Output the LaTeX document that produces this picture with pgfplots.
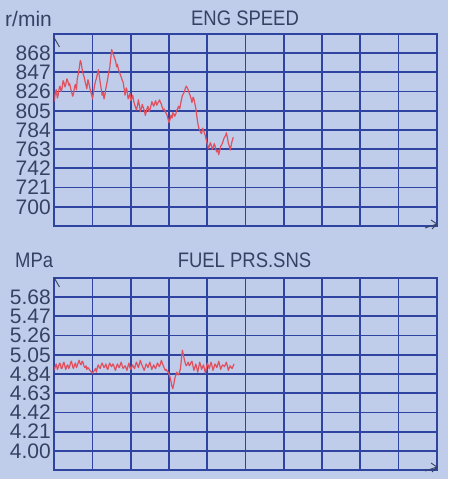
\documentclass[border=0pt]{standalone}
\usepackage{pgfplots}
\pgfplotsset{compat=1.18}
\usepackage{fontspec}
\setmainfont{Liberation Sans}
\newfontfamily\lcd[FakeStretch=0.88]{Liberation Sans}

\definecolor{lcdbg}{HTML}{BFCDEB}
\definecolor{lcdgrid}{HTML}{2F43A0}
\definecolor{ink}{HTML}{364264}
\definecolor{tracered}{HTML}{E2505E}

\pgfplotsset{
  lcd/.style={
    scale only axis, width=382.4pt, height=192pt,
    anchor=south west,
    xmin=0, xmax=10, xtick={0,...,10}, xticklabels={},
    grid=major,
    major grid style={lcdgrid, line width=1.8pt},
    axis line style={lcdgrid, line width=1.8pt},
    major tick length=0pt,
    tick label style={font=\fontsize{21}{21}\selectfont, text=ink},
  },
  redline/.style={tracered, line width=1.2pt, no markers, line join=round},
}

\begin{document}
\begin{tikzpicture}
\fill[lcdbg] (0,0) rectangle (448pt,479pt);
\useasboundingbox (0,0) rectangle (448pt,479pt);

% engine speed
\begin{axis}[lcd, at={(54.3pt,253pt)},
    ymin=679, ymax=889,
    ytick={700,721,742,763,784,805,826,847,868},
    yticklabels={700,721,742,763,784,805,826,847,868}]
\addplot[redline] coordinates {
(0.00,815) (0.03,826) (0.05,828) (0.08,819) (0.10,822) (0.13,830) (0.15,832)
(0.18,826) (0.20,829) (0.23,838) (0.25,836) (0.28,831) (0.30,834) (0.33,840)
(0.35,838) (0.38,833) (0.40,835) (0.43,829) (0.45,826) (0.48,821) (0.50,823)
(0.53,831) (0.55,834) (0.58,828) (0.60,840) (0.63,846) (0.65,851) (0.68,860)
(0.70,858) (0.73,850) (0.75,846) (0.78,842) (0.80,838) (0.83,833) (0.85,829)
(0.88,839) (0.90,836) (0.93,830) (0.95,826) (0.98,822) (1.00,818) (1.03,826)
(1.05,832) (1.08,838) (1.10,840) (1.13,846) (1.15,850) (1.18,842) (1.20,836)
(1.23,828) (1.25,822) (1.28,825) (1.30,818) (1.33,824) (1.35,830) (1.38,836)
(1.40,841) (1.43,848) (1.45,852) (1.48,864) (1.50,872) (1.53,868) (1.55,866)
(1.58,862) (1.60,860) (1.63,853) (1.65,856) (1.68,850) (1.70,848) (1.73,844)
(1.75,842) (1.78,838) (1.80,836) (1.83,828) (1.85,822) (1.88,830) (1.90,828)
(1.93,818) (1.95,820) (1.98,824) (2.00,816) (2.03,819) (2.05,822) (2.08,815)
(2.10,812) (2.13,808) (2.15,806) (2.18,812) (2.20,817) (2.23,810) (2.25,804)
(2.28,808) (2.30,812) (2.33,808) (2.35,806) (2.38,800) (2.40,803) (2.43,808)
(2.45,810) (2.48,804) (2.50,806) (2.53,811) (2.55,815) (2.58,812) (2.60,810)
(2.63,814) (2.65,816) (2.68,811) (2.70,813) (2.73,815) (2.75,817) (2.78,814)
(2.80,812) (2.83,808) (2.85,806) (2.88,807) (2.90,804) (2.93,802) (2.95,800)
(2.98,795) (3.00,792) (3.03,796) (3.05,800) (3.08,797) (3.10,803) (3.13,801)
(3.15,799) (3.18,802) (3.20,805) (3.23,808) (3.25,810) (3.28,807) (3.30,812)
(3.33,818) (3.35,822) (3.38,824) (3.40,826) (3.43,830) (3.45,832) (3.48,830)
(3.50,828) (3.53,824) (3.55,822) (3.58,818) (3.60,814) (3.63,820) (3.65,818)
(3.68,812) (3.70,808) (3.73,798) (3.75,792) (3.78,786) (3.80,784) (3.83,781)
(3.85,780) (3.88,786) (3.90,784) (3.93,780) (3.95,778) (3.98,772) (4.00,769)
(4.03,764) (4.05,766) (4.08,770) (4.10,768) (4.13,763) (4.15,764) (4.18,769)
(4.20,767) (4.23,762) (4.25,760) (4.28,762) (4.30,757) (4.33,762) (4.35,766)
(4.38,768) (4.40,770) (4.43,774) (4.45,776) (4.48,778) (4.50,781) (4.53,775)
(4.55,770) (4.58,766) (4.60,762) (4.63,768) (4.65,772) (4.68,776)
};
\end{axis}

% fuel pressure
\begin{axis}[lcd, at={(54.3pt,9pt)},
    ymin=3.79, ymax=5.89,
    ytick={4.00,4.21,4.42,4.63,4.84,5.05,5.26,5.47,5.68},
    yticklabels={4.00,4.21,4.42,4.63,4.84,5.05,5.26,5.47,5.68}]
\addplot[redline] coordinates {
(0.00,4.88) (0.03,4.93) (0.05,4.95) (0.08,4.89) (0.10,4.91) (0.13,4.95) (0.15,4.96)
(0.18,4.90) (0.20,4.90) (0.23,4.95) (0.25,4.97) (0.28,4.92) (0.30,4.89) (0.33,4.93)
(0.35,4.94) (0.38,4.90) (0.40,4.92) (0.43,4.97) (0.45,4.98) (0.48,4.92) (0.50,4.90)
(0.53,4.94) (0.55,4.96) (0.58,4.91) (0.60,4.93) (0.63,4.97) (0.65,4.99) (0.68,4.95)
(0.70,4.94) (0.73,4.98) (0.75,4.97) (0.78,4.92) (0.80,4.91) (0.83,4.93) (0.85,4.89)
(0.88,4.91) (0.90,4.90) (0.93,4.88) (0.95,4.87) (0.98,4.86) (1.00,4.85) (1.03,4.87)
(1.05,4.88) (1.08,4.90) (1.10,4.86) (1.13,4.92) (1.15,4.94) (1.18,4.91) (1.20,4.90)
(1.23,4.94) (1.25,4.96) (1.28,4.93) (1.30,4.91) (1.33,4.93) (1.35,4.95) (1.38,4.90)
(1.40,4.89) (1.43,4.94) (1.45,4.96) (1.48,4.93) (1.50,4.92) (1.53,4.95) (1.55,4.94)
(1.58,4.90) (1.60,4.88) (1.63,4.93) (1.65,4.95) (1.68,4.92) (1.70,4.91) (1.73,4.95)
(1.75,4.97) (1.78,4.92) (1.80,4.90) (1.83,4.92) (1.85,4.93) (1.88,4.90) (1.90,4.88)
(1.93,4.93) (1.95,4.96) (1.98,4.91) (2.00,4.89) (2.03,4.92) (2.05,4.94) (2.08,4.91)
(2.10,4.90) (2.13,4.95) (2.15,4.97) (2.18,4.93) (2.20,4.91) (2.23,4.96) (2.25,4.99)
(2.28,4.95) (2.30,4.93) (2.33,4.90) (2.35,4.88) (2.38,4.92) (2.40,4.95) (2.43,4.93)
(2.45,4.91) (2.48,4.95) (2.50,4.97) (2.53,4.92) (2.55,4.89) (2.58,4.92) (2.60,4.94)
(2.63,4.91) (2.65,4.90) (2.68,4.94) (2.70,4.96) (2.73,4.93) (2.75,4.92) (2.78,4.96)
(2.80,4.99) (2.83,4.95) (2.85,4.93) (2.88,4.90) (2.90,4.88) (2.93,4.89) (2.95,4.87)
(2.98,4.86) (3.00,4.84) (3.03,4.80) (3.05,4.76) (3.08,4.70) (3.10,4.68) (3.13,4.74)
(3.15,4.79) (3.18,4.83) (3.20,4.86) (3.23,4.84) (3.25,4.83) (3.28,4.87) (3.30,4.90)
(3.33,5.03) (3.35,5.10) (3.38,5.04) (3.40,5.00) (3.43,4.95) (3.45,4.93) (3.48,4.95)
(3.50,4.97) (3.53,4.93) (3.55,4.94) (3.58,4.97) (3.60,4.98) (3.63,4.92) (3.65,4.88)
(3.68,4.92) (3.70,4.95) (3.73,4.90) (3.75,4.86) (3.78,4.92) (3.80,4.97) (3.83,4.93)
(3.85,4.89) (3.88,4.92) (3.90,4.94) (3.93,4.89) (3.95,4.85) (3.98,4.91) (4.00,4.96)
(4.03,4.93) (4.05,4.90) (4.08,4.94) (4.10,4.97) (4.13,4.92) (4.15,4.88) (4.18,4.92)
(4.20,4.95) (4.23,4.93) (4.25,4.91) (4.28,4.95) (4.30,4.98) (4.33,4.93) (4.35,4.89)
(4.38,4.92) (4.40,4.94) (4.43,4.93) (4.45,4.92) (4.48,4.95) (4.50,4.97) (4.53,4.92)
(4.55,4.88) (4.58,4.91) (4.60,4.93) (4.63,4.91) (4.65,4.90) (4.68,4.93) (4.70,4.95)
};
\end{axis}

% titles and units
\node[anchor=base west, text=ink, inner sep=0pt] at (5pt,452pt) {\fontsize{21}{21}\selectfont r/min};
\node[anchor=base, text=ink, inner sep=0pt] at (245pt,453pt) {\lcd\fontsize{21}{21}\selectfont ENG SPEED};
\node[anchor=base west, text=ink, inner sep=0pt] at (15pt,211pt) {\lcd\fontsize{21}{21}\selectfont MPa};
\node[anchor=base, text=ink, inner sep=0pt] at (244.5pt,211pt) {\lcd\fontsize{21}{21}\selectfont FUEL PRS.SNS};

% little axis arrows of the scope screen
\draw[ink, line width=0.9pt] (54.3pt,441pt) -- (59.5pt,432pt);
\draw[ink, line width=0.9pt] (425pt,251pt) -- (437pt,255pt) (431pt,259pt) -- (437pt,255pt) -- (432pt,250pt);
\draw[ink, line width=0.9pt] (54.3pt,201pt) -- (59.5pt,192pt);
\draw[ink, line width=0.9pt] (425pt,8pt) -- (437pt,12pt) (431pt,16pt) -- (437pt,12pt) -- (432pt,7pt);
\end{tikzpicture}
\end{document}
